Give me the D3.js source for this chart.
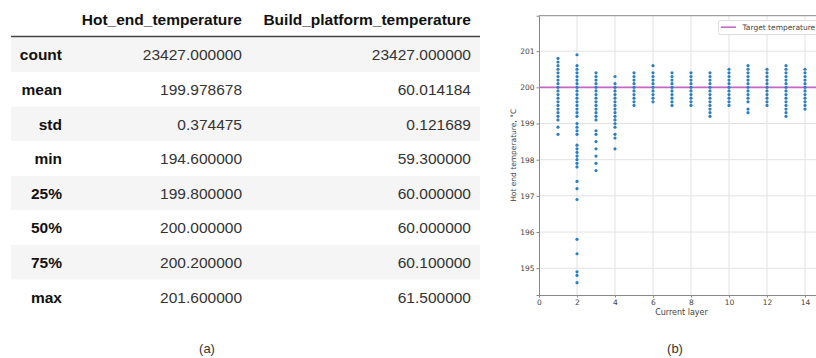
<!DOCTYPE html>
<html>
<head>
<meta charset="utf-8">
<script src="https://cdn.jsdelivr.net/npm/d3@7"></script>
<style>
  body { margin: 0; background: #fff; }
  svg { display: block; }
</style>
</head>
<body>
<script>
// table (a): pandas describe()
const columns = ["Hot_end_temperature", "Build_platform_temperature"];
const statNames = ["count", "mean", "std", "min", "25%", "50%", "75%", "max"];
const hotEndStats = ["23427.000000", "199.978678", "0.374475", "194.600000", "199.800000", "200.000000", "200.200000", "201.600000"];
const buildStats = ["23427.000000", "60.014184", "0.121689", "59.300000", "60.000000", "60.000000", "60.100000", "61.500000"];

// scatter (b): hot end temperature per layer
const layers = [1, 2, 3, 4, 5, 6, 7, 8, 9, 10, 11, 12, 13, 14];
const hotEndByLayer = [
  [198.7, 198.9, 199.1, 199.2, 199.3, 199.4, 199.5, 199.6, 199.7, 199.8, 199.9, 200.0, 200.1, 200.2, 200.3, 200.4, 200.5, 200.6, 200.7, 200.8],
  [194.6, 194.8, 194.9, 195.4, 195.8, 196.9, 197.2, 197.4, 197.8, 197.9, 198.0, 198.1, 198.2, 198.3, 198.4, 198.7, 198.8, 198.9, 199.0, 199.2, 199.3, 199.4, 199.5, 199.6, 199.7, 199.8, 199.9, 200.0, 200.1, 200.2, 200.3, 200.4, 200.5, 200.6, 200.9],
  [197.7, 197.9, 198.1, 198.3, 198.5, 198.7, 198.8, 199.1, 199.2, 199.3, 199.4, 199.5, 199.6, 199.7, 199.8, 199.9, 200.0, 200.1, 200.2, 200.3, 200.4],
  [198.3, 198.6, 198.7, 198.9, 199.0, 199.1, 199.2, 199.3, 199.4, 199.5, 199.6, 199.7, 199.8, 199.9, 200.0, 200.1, 200.3],
  [199.5, 199.6, 199.7, 199.8, 199.9, 200.0, 200.1, 200.2, 200.3, 200.4],
  [199.6, 199.7, 199.8, 199.9, 200.0, 200.1, 200.2, 200.3, 200.4, 200.6],
  [199.5, 199.6, 199.7, 199.8, 199.9, 200.0, 200.1, 200.2, 200.3, 200.4],
  [199.5, 199.6, 199.7, 199.8, 199.9, 200.0, 200.1, 200.2, 200.3, 200.4],
  [199.2, 199.3, 199.4, 199.5, 199.6, 199.7, 199.8, 199.9, 200.0, 200.1, 200.2, 200.3, 200.4],
  [199.5, 199.6, 199.7, 199.8, 199.9, 200.0, 200.1, 200.2, 200.3, 200.4, 200.5],
  [199.3, 199.4, 199.6, 199.7, 199.8, 199.9, 200.0, 200.1, 200.2, 200.3, 200.4, 200.5, 200.6],
  [199.5, 199.6, 199.7, 199.8, 199.9, 200.0, 200.1, 200.2, 200.3, 200.4, 200.5],
  [199.2, 199.3, 199.4, 199.5, 199.6, 199.7, 199.8, 199.9, 200.0, 200.1, 200.2, 200.3, 200.4, 200.5, 200.6],
  [199.4, 199.5, 199.6, 199.7, 199.8, 199.9, 200.0, 200.1, 200.2, 200.3, 200.4, 200.5]
];
const targetTemp = 200;
const xTicks = [0, 2, 4, 6, 8, 10, 12, 14];
const yTicks = [195, 196, 197, 198, 199, 200, 201];

const W = 816, H = 358;
const svg = d3.select("body").append("svg").attr("width", W).attr("height", H);

//---------------- table (a) ----------------
const tbl = { left: 11, right: 480, top: 37.5, rowH: 34.6 };
const colRight = [242, 471];
const idxRight = 62;
const tableFont = "'Liberation Sans', Arial, sans-serif";

const tg = svg.append("g").attr("font-family", tableFont).attr("font-size", "15.5px");

// header
tg.selectAll("text.hdr")
  .data(columns)
  .enter()
  .append("text")
  .attr("class", "hdr")
  .attr("x", (d, i) => colRight[i])
  .attr("y", 25)
  .attr("text-anchor", "end")
  .attr("font-weight", "bold")
  .attr("fill", "#111")
  .text((d) => d);

// zebra rows
tg.selectAll("rect.row")
  .data(statNames)
  .enter()
  .append("rect")
  .attr("class", "row")
  .attr("x", tbl.left)
  .attr("y", (d, i) => tbl.top + i * tbl.rowH)
  .attr("width", tbl.right - tbl.left)
  .attr("height", tbl.rowH)
  .attr("fill", (d, i) => (i % 2 === 0 ? "#f5f5f5" : "#fff"));

tg.append("line")
  .attr("x1", tbl.left)
  .attr("x2", tbl.right)
  .attr("y1", tbl.top - 1)
  .attr("y2", tbl.top - 1)
  .attr("stroke", "#444")
  .attr("stroke-width", 1.5);

const rowY = (i) => tbl.top + i * tbl.rowH + tbl.rowH / 2 + 5.5;

tg.selectAll("text.idx")
  .data(statNames)
  .enter()
  .append("text")
  .attr("class", "idx")
  .attr("x", idxRight)
  .attr("y", (d, i) => rowY(i))
  .attr("text-anchor", "end")
  .attr("font-weight", "bold")
  .attr("fill", "#111")
  .text((d) => d);

[hotEndStats, buildStats].forEach(function (vals, c) {
  tg.selectAll("text.v" + c)
    .data(vals)
    .enter()
    .append("text")
    .attr("class", "v" + c)
    .attr("x", colRight[c])
    .attr("y", (d, i) => rowY(i))
    .attr("text-anchor", "end")
    .attr("fill", "#333")
    .text((d) => d);
});

//---------------- scatter (b) ----------------
// plot area continues past the right edge of the picture (cropped there)
const plot = { left: 539, top: 15.7, bottom: 295 };
const x = d3.scaleLinear().domain([0, 16]).range([plot.left, plot.left + 16 * 19]);
const y = d3.scaleLinear().domain([194.26, 201.98]).range([plot.bottom, plot.top]);
const plotRight = x(16);

const pg = svg.append("g").attr("font-family", "'DejaVu Sans', sans-serif");

// grid
pg.selectAll("line.gx")
  .data(xTicks.filter((d) => d > 0))
  .enter()
  .append("line")
  .attr("class", "gx")
  .attr("x1", (d) => x(d))
  .attr("x2", (d) => x(d))
  .attr("y1", plot.top)
  .attr("y2", plot.bottom)
  .attr("stroke", "#e2e2e2")
  .attr("stroke-width", 1);

pg.selectAll("line.gy")
  .data(yTicks)
  .enter()
  .append("line")
  .attr("class", "gy")
  .attr("x1", plot.left)
  .attr("x2", plotRight)
  .attr("y1", (d) => y(d))
  .attr("y2", (d) => y(d))
  .attr("stroke", "#e2e2e2")
  .attr("stroke-width", 1);

// axes
const xAxis = pg.append("g")
  .attr("transform", `translate(0,${plot.bottom})`)
  .call(d3.axisBottom(x).tickValues(xTicks).tickSize(2.5).tickPadding(2));
const yAxis = pg.append("g")
  .attr("transform", `translate(${plot.left},0)`)
  .call(d3.axisLeft(y).tickValues(yTicks).tickSize(2.5).tickPadding(2));

[xAxis, yAxis].forEach(function (a) {
  a.select(".domain").attr("stroke", "#888");
  a.selectAll(".tick line").attr("stroke", "#888");
  a.selectAll(".tick text").attr("fill", "#444").attr("font-size", "7.5px").attr("font-family", "'DejaVu Sans', sans-serif");
});

// top border
pg.append("line")
  .attr("x1", plot.left)
  .attr("x2", plotRight)
  .attr("y1", plot.top)
  .attr("y2", plot.top)
  .attr("stroke", "#888");

// target line
pg.append("line")
  .attr("x1", plot.left)
  .attr("x2", plotRight)
  .attr("y1", y(targetTemp))
  .attr("y2", y(targetTemp))
  .attr("stroke", "#c567c5")
  .attr("stroke-width", 1.6);

// points
const points = [];
layers.forEach(function (l, i) {
  hotEndByLayer[i].forEach(function (v) {
    points.push({ layer: l, temp: v });
  });
});

pg.selectAll("circle.pt")
  .data(points)
  .enter()
  .append("circle")
  .attr("class", "pt")
  .attr("cx", (d) => x(d.layer))
  .attr("cy", (d) => y(d.temp))
  .attr("r", 1.6)
  .attr("fill", "#2c7fbf");

// axis labels
pg.append("text")
  .attr("x", x(7.5))
  .attr("y", 315)
  .attr("text-anchor", "middle")
  .attr("font-size", "8px")
  .attr("fill", "#444")
  .text("Current layer");

pg.append("text")
  .attr("transform", `translate(516,${(plot.top + plot.bottom) / 2}) rotate(-90)`)
  .attr("text-anchor", "middle")
  .attr("font-size", "7.5px")
  .attr("fill", "#444")
  .text("Hot end temperature, °C");

// legend
const lg = pg.append("g");
lg.append("rect")
  .attr("x", 718.5)
  .attr("y", 20.5)
  .attr("width", 120)
  .attr("height", 14)
  .attr("rx", 2)
  .attr("fill", "#fff")
  .attr("stroke", "#ddd");
lg.append("line")
  .attr("x1", 721)
  .attr("x2", 736)
  .attr("y1", 27.2)
  .attr("y2", 27.2)
  .attr("stroke", "#c567c5")
  .attr("stroke-width", 1.6);
lg.append("text")
  .attr("x", 742.5)
  .attr("y", 30)
  .attr("font-size", "7.5px")
  .attr("fill", "#444")
  .text("Target temperature");

//---------------- captions ----------------
svg.selectAll("text.cap")
  .data(["(a)", "(b)"])
  .enter()
  .append("text")
  .attr("class", "cap")
  .attr("x", (d, i) => [207, 675][i])
  .attr("y", 353)
  .attr("text-anchor", "middle")
  .attr("font-family", "'Liberation Sans Narrow', 'Liberation Sans', Arial, sans-serif")
  .attr("font-size", "13px")
  .attr("fill", "#333")
  .text((d) => d);
</script>
</body>
</html>
